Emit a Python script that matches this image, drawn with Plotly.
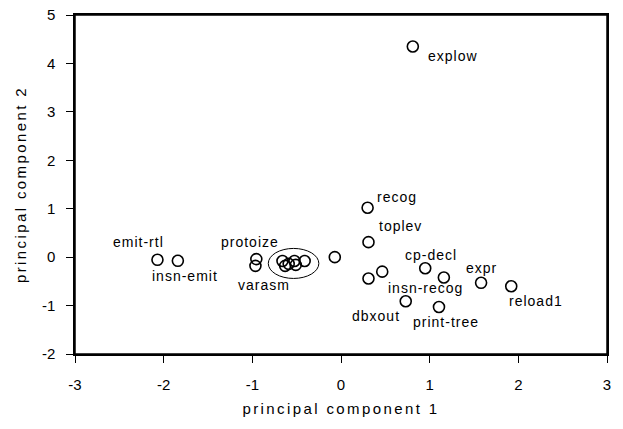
import plotly.graph_objects as go

# ---- data ----
names = ["explow", "recog", "toplev", "cp-decl", "expr", "reload1", "dbxout",
         "print-tree", "insn-recog", "emit-rtl", "insn-emit", "protoize", "varasm",
         "", "", "", "", "", "", "", "", ""]
pc1 = [0.81, 0.30, 0.31, 0.95, 1.58, 1.92, 0.73,
       1.105, 1.16, -2.07, -1.84, -0.955, -0.965,
       -0.66, -0.59, -0.525, -0.41, -0.51, -0.63, -0.07, 0.31, 0.465]
pc2 = [4.35, 1.02, 0.31, -0.23, -0.53, -0.60, -0.91,
       -1.03, -0.42, -0.055, -0.076, -0.04, -0.18,
       -0.08, -0.14, -0.08, -0.08, -0.16, -0.18, 0.0, -0.44, -0.30]
cluster_idx = [13, 14, 15, 16, 17, 18]
x_ticks = [-3, -2, -1, 0, 1, 2, 3]
y_ticks = [-2, -1, 0, 1, 2, 3, 4, 5]

# ---- label offsets (pixels: dx right, dy up) ----
label_offsets = {
    "explow": (40, -10), "recog": (29, 11), "toplev": (32, 16),
    "cp-decl": (6, 13), "expr": (0, 15), "reload1": (25, -15),
    "dbxout": (-30, -15), "print-tree": (7, -15), "insn-recog": (-18, -11),
    "emit-rtl": (-19, 18), "insn-emit": (7, -15), "protoize": (-6, 17),
    "varasm": (9, -19),
}

FONT = "Liberation Sans, Arial, sans-serif"


def spaced(t, px):
    return f'<span style="letter-spacing:{px}px">{t}</span>'


fig = go.Figure()
fig.add_trace(go.Scatter(
    x=pc1, y=pc2, mode="markers",
    marker=dict(symbol="circle-open", size=11, color="black",
                line=dict(color="black", width=1.6)),
    hoverinfo="skip", showlegend=False,
))

for n, x, y in zip(names, pc1, pc2):
    if not n:
        continue
    dx, dy = label_offsets[n]
    fig.add_annotation(x=x, y=y, text=spaced(n, 1), showarrow=False,
                       xshift=dx, yshift=dy,
                       font=dict(family=FONT, size=14, color="black"))

# ellipse around the cluster, derived from the cluster points
cx = [pc1[i] for i in cluster_idx]
cy = [pc2[i] for i in cluster_idx]
mx, my = (min(cx) + max(cx)) / 2, (min(cy) + max(cy)) / 2
hx, hy = (max(cx) - min(cx)) / 2 + 0.16, (max(cy) - min(cy)) / 2 + 0.26
fig.add_shape(type="circle", xref="x", yref="y",
              x0=mx - hx, x1=mx + hx, y0=my - hy, y1=my + hy,
              line=dict(color="black", width=1))

# plot frame
fig.add_shape(type="rect", xref="paper", yref="paper", x0=0, x1=1, y0=0, y1=1,
              line=dict(color="black", width=1.5), layer="above")

axis_common = dict(
    showgrid=False, zeroline=False, showline=True, mirror=True,
    linecolor="black", linewidth=1.5, ticks="outside", ticklen=7,
    tickcolor="black", tickwidth=1, ticklabeloverflow="allow",
    tickfont=dict(family=FONT, size=15, color="black"),
)

fig.update_xaxes(range=[-3, 3], tickvals=x_ticks,
                 ticktext=[str(v) for v in x_ticks],
                 ticklabelstandoff=9,
                 title=dict(text=spaced("principal component 1", 2.4), standoff=12,
                            font=dict(family=FONT, size=15, color="black")),
                 **axis_common)
fig.update_yaxes(range=[-2, 5], tickvals=y_ticks,
                 ticktext=[str(v) for v in y_ticks],
                 ticklabelstandoff=8,
                 title=dict(text=spaced("principal component 2", 2.4), standoff=12,
                            font=dict(family=FONT, size=15, color="black")),
                 **axis_common)

fig.update_layout(
    width=623, height=429,
    margin=dict(l=75, r=16, t=15, b=75, autoexpand=False),
    paper_bgcolor="white", plot_bgcolor="white",
    font=dict(family=FONT, color="black"),
)

fig.write_html("out.html",
               config={"displayModeBar": False},
               post_script="document.body.style.margin='0';"
                           "document.body.style.overflow='hidden';")
